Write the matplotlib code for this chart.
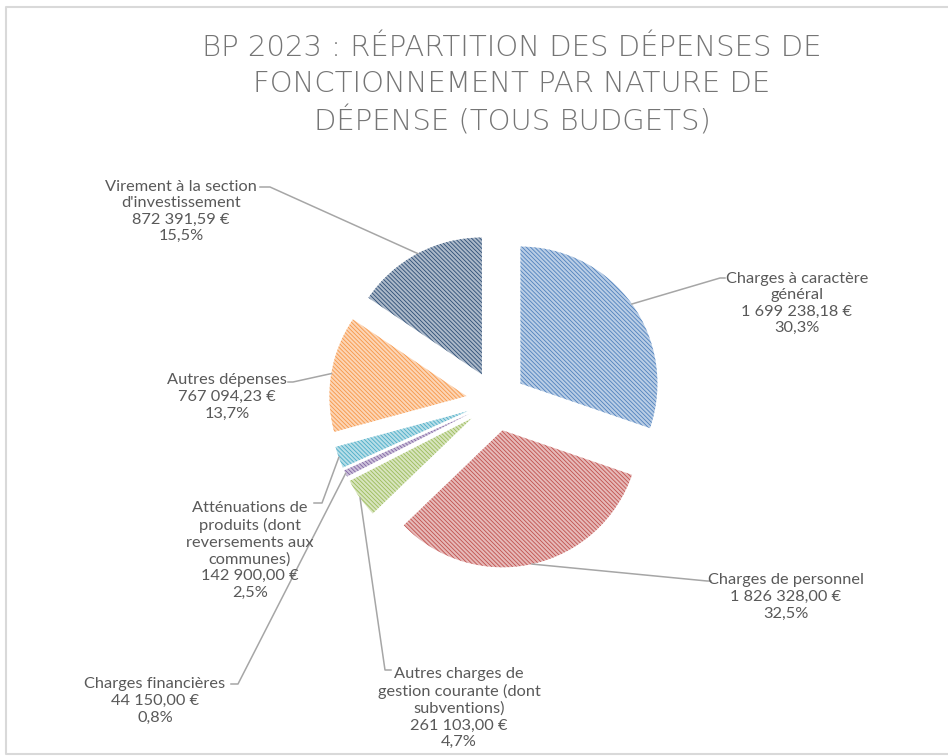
import numpy as np
import matplotlib.pyplot as plt
from matplotlib.colors import to_rgb

# données BP 2023 (dépenses de fonctionnement)
categories = ["Charges à caractère\ngénéral",
              "Charges de personnel",
              "Autres charges de\ngestion courante (dont\nsubventions)",
              "Charges financières",
              "Atténuations de\nproduits (dont\nreversements aux\ncommunes)",
              "Autres dépenses",
              "Virement à la section\nd'investissement"]
montants = [1699238.18, 1826328.00, 261103.00, 44150.00, 142900.00, 767094.23, 872391.59]
couleurs = ["#4F81BD", "#C0504D", "#9BBB59", "#8064A2", "#4BACC6", "#F79646", "#2C4D75"]

title = "BP 2023 : RÉPARTITION DES DÉPENSES DE\nFONCTIONNEMENT PAR NATURE DE\nDÉPENSE (TOUS BUDGETS)"

# position des étiquettes (px) : centre x, y de la 1re ligne, coude du trait, fin du trait
label_pos = [(797, 275, 720, 278, 725),
             (786, 578, 707, 581, 711),
             (459, 670, 385, 670, 391),
             (155, 682, 238, 684, 231),
             (250, 503, 322, 503, 314),
             (227, 378, 293, 382, 288),
             (181, 183, 270, 187, 260)]

plt.rcParams['font.family'] = ['Lato', 'DejaVu Sans']
plt.rcParams['hatch.linewidth'] = 0.6

fig = plt.figure(figsize=(9.48, 7.56), dpi=100)
ax = fig.add_axes([0, 0, 1, 1])

def fmt_euro(v):
    return f"{v:,.2f}".replace(",", " ").replace(".", ",") + " €"

total = sum(montants)
wedges, _ = ax.pie(montants, colors=couleurs, startangle=-90, counterclock=True,
                   radius=137, center=(496, 401), explode=[30] * len(montants),
                   wedgeprops=dict(linewidth=0))

for w, c in zip(wedges, couleurs):
    rgb = np.array(to_rgb(c))
    w.set_facecolor(rgb * 0.4 + 0.6)
    w.set_edgecolor(c)
    w.set_linewidth(0)
    w.set_hatch('\\' * 8)

# étiquettes + traits de rappel
for w, cat, v, pos in zip(wedges, categories, montants, label_pos):
    cx, y0, ex, ey, tx = pos
    t = np.deg2rad((w.theta1 + w.theta2) / 2)
    sx = w.center[0] + w.r * np.cos(t)
    sy = w.center[1] + w.r * np.sin(t)
    ax.plot([sx, ex, tx], [sy, ey, ey], color='#A6A6A6', lw=1.1)
    txt = cat + "\n" + fmt_euro(v) + "\n" + f"{v / total * 100:.1f}%".replace(".", ",")
    n = txt.count("\n")
    ax.text(cx, y0 + n * 19 / 2, txt, ha='center', va='center', fontsize=11.8,
            color='#595959', linespacing=1.23)

ax.text(512, 85, title, ha='center', va='center', fontsize=21, color='#757575',
        family='DejaVu Sans', weight='light', linespacing=1.36)

# cadre de la zone de graphique
ax.plot([948, 6, 6, 948], [7, 7, 754, 754], color='#D9D9D9', lw=1.5)

ax.set_xlim(0, 948)
ax.set_ylim(756, 0)
ax.set_aspect('equal')
ax.axis('off')

plt.savefig('out.png', dpi=100)
